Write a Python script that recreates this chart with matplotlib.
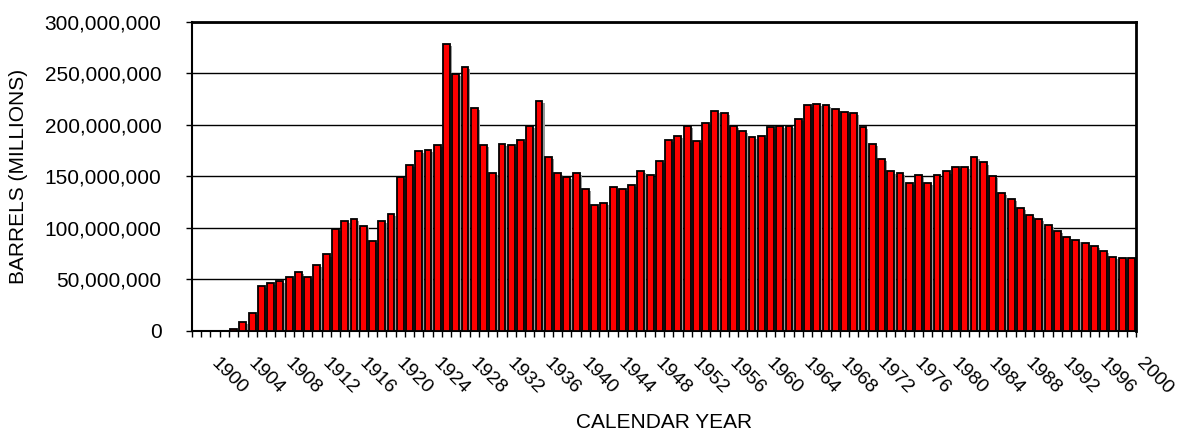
import matplotlib
matplotlib.use("Agg")
import matplotlib.pyplot as plt
import matplotlib.ticker as mticker
from matplotlib.transforms import ScaledTranslation
import numpy as np

# calendar years on the category axis (1900 - 2001)
YEARS = list(range(1900, 2002))

# annual production, millions of barrels
BARRELS_M = [
    0, 0, 0, 0, 1.5, 9.0, 17.5, 43.3, 46.9, 48.2,
    52.0, 56.9, 52.0, 64.3, 74.3, 98.8, 106.6, 108.8, 102.3, 87.8,
    106.6, 113.9, 149.7, 161.0, 174.6, 175.8, 180.7, 278.7, 249.7, 256.1,
    216.8, 180.7, 153.6, 182.0, 181.0, 185.9, 199.4, 223.2, 168.5, 153.6,
    149.7, 153.6, 137.5, 122.6, 124.0, 140.0, 137.5, 141.4, 155.2, 151.3,
    164.9, 185.9, 189.7, 199.4, 184.5, 201.9, 213.2, 212.0, 199.4, 194.6,
    188.8, 189.7, 198.1, 198.7, 199.4, 205.8, 219.3, 220.7, 219.5, 215.5,
    213.0, 211.6, 198.1, 182.0, 166.8, 154.9, 153.6, 143.9, 151.3, 143.9,
    151.3, 154.9, 158.8, 158.8, 168.8, 163.6, 150.4, 134.2, 127.8, 119.1,
    112.7, 109.1, 102.7, 96.8, 91.7, 88.5, 85.3, 83.0, 78.1, 72.0,
    71.1, 70.8,
]

Y_TICKS = [0, 50e6, 100e6, 150e6, 200e6, 250e6, 300e6]
LABEL_STEP = 4

X_LABEL = "CALENDAR YEAR"
Y_LABEL = "BARRELS (MILLIONS)"


def main():
    plt.rcParams["font.family"] = ["Liberation Sans", "DejaVu Sans"]

    fig = plt.figure(figsize=(11.77, 4.38), dpi=100)
    ax = fig.add_axes([0.1631, 0.2443, 0.9652 - 0.1631, 0.9498 - 0.2443])

    x = np.arange(len(YEARS))
    vals = np.array(BARRELS_M) * 1e6

    width = 0.74
    shift = 0.22
    # grey drop shadow behind each bar
    shadow = np.clip(vals - 2.0e6, 0, None)
    ax.bar(x + shift, shadow, width, color="#9a9a9a", linewidth=0, zorder=2)
    ax.bar(x, vals, width, color="#ff0000", edgecolor="black",
           linewidth=1.3, zorder=3)

    ax.set_xlim(-0.5, len(YEARS) - 0.5)
    ax.set_ylim(0, 300e6)

    # horizontal grid lines
    ax.set_yticks(Y_TICKS)
    ax.yaxis.set_major_formatter(mticker.FuncFormatter(lambda v, p: f"{v:,.0f}"))
    ax.grid(axis="y", color="black", linewidth=1.0, zorder=1)
    ax.set_axisbelow(True)
    ax.tick_params(axis="y", direction="out", length=4, width=1,
                   pad=18, labelsize=15)

    # tick marks between categories, labels every 4 years
    ax.set_xticks(np.arange(len(YEARS) + 1) - 0.5, minor=True)
    ax.tick_params(axis="x", which="minor", direction="out", length=4, width=1)
    lab_pos = x[::LABEL_STEP]
    ax.set_xticks(lab_pos)
    ax.set_xticklabels([str(YEARS[i]) for i in lab_pos])
    ax.tick_params(axis="x", which="major", length=0, pad=17.5, labelsize=14)
    off = ScaledTranslation(0.23, 0, fig.dpi_scale_trans)
    for lab in ax.get_xticklabels():
        lab.set_rotation(-45)
        lab.set_rotation_mode("anchor")
        lab.set_ha("left")
        lab.set_va("top")
        lab.set_transform(lab.get_transform() + off)

    for side in ["top", "right"]:
        ax.spines[side].set_linewidth(2.0)
    for side in ["left", "bottom"]:
        ax.spines[side].set_linewidth(1.5)

    ax.set_xlabel(X_LABEL, fontsize=15, labelpad=11)
    ax.set_ylabel(Y_LABEL, fontsize=15, labelpad=12)

    fig.savefig("out.png", dpi=100)


if __name__ == "__main__":
    main()
